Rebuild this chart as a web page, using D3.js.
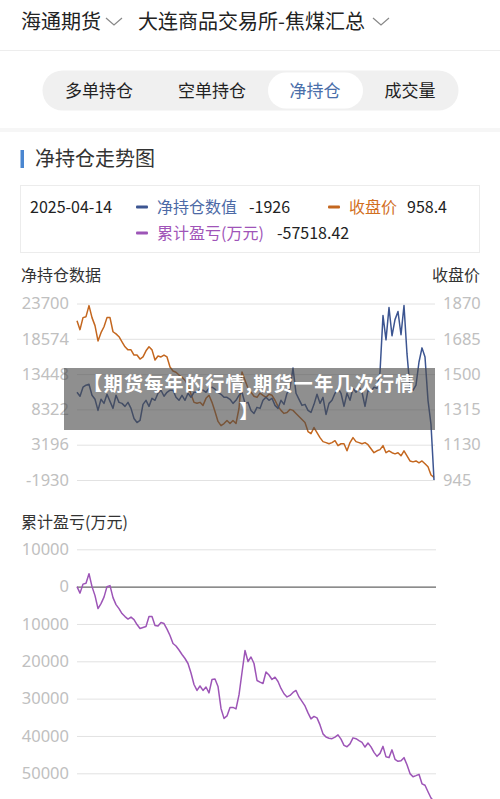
<!DOCTYPE html>
<html>
<head>
<meta charset="utf-8">
<script src="https://cdn.jsdelivr.net/npm/d3@7"></script>
<style>
  html, body { margin: 0; padding: 0; background: #fff; }
  svg { display: block; font-family: "Noto Sans CJK SC", "Noto Sans", sans-serif; }
</style>
</head>
<body>
<div id="chart"></div>
<script>
// header / tabs
const brokers = ['海通期货', '大连商品交易所-焦煤汇总'];
const tabs = ['多单持仓', '空单持仓', '净持仓', '成交量'];
const activeTab = '净持仓';

// legend readout for the last day
const lastDate = '2025-04-14';
const legendItems = [
  { name: '净持仓数值', value: '-1926', key: 'net' },
  { name: '收盘价', value: '958.4', key: 'price' },
  { name: '累计盈亏(万元)', value: '-57518.42', key: 'pnl' }
];

// axis ticks
const netTicks = [-1930, 3196, 8322, 13448, 18574, 23700];
const priceTicks = [945, 1130, 1315, 1500, 1685, 1870];
const pnlTicks = [10000, 0, -10000, -20000, -30000, -40000, -50000];

// series (one value per trading-day sample)
const netPosition = [
  10812, 10226, 11544, 11837, 11983, 10372, 9786, 8175, 9786, 9200,
  10519, 9493, 8468, 10372, 9347, 9200, 8761, 9347, 8468, 7004,
  6418, 6711, 9054, 9640, 8761, 9933, 9640, 10665, 11104, 10226,
  10812, 11104, 11104, 10079, 9640, 10372, 9640, 10665, 10079, 10812,
  10812, 11251, 11104, 10812, 11397, 11544, 11251, 10812, 10519, 10079,
  10079, 9786, 9200, 9640, 10372, 10812, 9200, 9347, 8175, 7736,
  8615, 8468, 9640, 10079, 9640, 9933, 8908, 8468, 9640, 9054,
  10665, 11397, 14327, 10665, 9786, 8908, 9054, 8175, 7882, 9054,
  10519, 9200, 10079, 7589, 9200, 9640, 10665, 11397, 10665, 8761,
  10665, 9640, 11397, 10812, 11544, 10812, 8761, 11104, 10958, 11544,
  11397, 13741, 21943, 18427, 23114, 19013, 21357, 22528, 19160, 23407,
  16377, 11397, 11104, 11837, 15205, 17256, 15938, 9640, 6125, -1926
];

const closePrice = [
  1780, 1733, 1796, 1801, 1859, 1796, 1754, 1674, 1717, 1748,
  1796, 1796, 1722, 1711, 1696, 1669, 1643, 1627, 1627, 1600,
  1600, 1579, 1590, 1622, 1643, 1627, 1574, 1595, 1590, 1600,
  1590, 1537, 1516, 1510, 1495, 1484, 1468, 1437, 1394, 1352,
  1347, 1352, 1336, 1373, 1389, 1352, 1304, 1252, 1230, 1241,
  1257, 1241, 1257, 1241, 1320, 1511, 1468, 1426, 1405, 1384,
  1378, 1400, 1389, 1378, 1394, 1389, 1363, 1331, 1310, 1294,
  1299, 1315, 1310, 1294, 1278, 1262, 1246, 1199, 1188, 1220,
  1193, 1167, 1146, 1141, 1135, 1141, 1151, 1125, 1135, 1135,
  1098, 1141, 1167, 1146, 1141, 1135, 1141, 1130, 1109, 1088,
  1098, 1104, 1125, 1088, 1098, 1088, 1082, 1088, 1072, 1098,
  1072, 1045, 1040, 1045, 1035, 1045, 1030, 1014, 971, 958.4
];

const cumulativePnl = [
  0, -1738, 669, 882, 3476, 0, -2407, -5883, -4546, -2808,
  0, 267, -2941, -4813, -5883, -7220, -8022, -8691, -8156, -8824,
  -10161, -11231, -10963, -10696, -8022, -8022, -10429, -10563, -9626, -9894,
  -11365, -13103, -15242, -15910, -16980, -18183, -19253, -20590, -23130, -26205,
  -27810, -26607, -27810, -26874, -28478, -24868, -24735, -26740, -32623, -35297,
  -34628, -32355, -32355, -32756, -29012, -22996, -17114, -20055, -18852, -20590,
  -25136, -25590, -25938, -22863, -23665, -24868, -24253, -25403, -27275, -28692,
  -29548, -29147, -28344, -27810, -29548, -30751, -31954, -33826, -35431, -34762,
  -35163, -37035, -39442, -40297, -40591, -40725, -40297, -39709, -40859, -42517,
  -42891, -42116, -40511, -40725, -41233, -41714, -42971, -41901, -42918, -44388,
  -45458, -44656, -42784, -45592, -45806, -43720, -46260, -46795, -46661, -45806,
  -47731, -50084, -50940, -50619, -50272, -52812, -53213, -54951, -56609, -57518.42
];

const watermark = ['【期货每年的行情,期货一年几次行情', '】'];

const colors = { net: '#3c5591', price: '#c4671f', pnl: '#9d55b7' };
const legendText = { net: '#4d6aa6', price: '#d2701f', pnl: '#a054b8' };
const tickFont = '"Noto Sans", "Open Sans", sans-serif';

const width = 500;
const height = 799;
const svg = d3.select('#chart').append('svg').attr('width', width).attr('height', height);

// ---- header ----
const header = svg.append('g').attr('class', 'header');
header.append('text').attr('x', 21).attr('y', 29).attr('font-size', 20).attr('fill', '#222').text(brokers[0]);
header.append('text').attr('x', 138).attr('y', 29).attr('font-size', 20).attr('fill', '#222').text(brokers[1]);
[[106, 18], [373, 18]].forEach(([cx, cy]) => {
  header.append('path')
    .attr('d', `M${cx},${cy} L${cx + 8},${cy + 7} L${cx + 16},${cy}`)
    .attr('fill', 'none').attr('stroke', '#888').attr('stroke-width', 1.2);
});
header.append('line').attr('x1', 0).attr('x2', width).attr('y1', 50.5).attr('y2', 50.5)
  .attr('stroke', '#ededed');

// ---- tab switcher ----
const tabCenters = [99, 212, 315, 410];
const tabsG = svg.append('g').attr('class', 'tabs');
tabsG.append('rect').attr('x', 42.5).attr('y', 70.5).attr('width', 416).attr('height', 40)
  .attr('rx', 20).attr('fill', '#f0f0f0');
tabsG.append('rect').attr('x', 268).attr('y', 72.5).attr('width', 95).attr('height', 36)
  .attr('rx', 18).attr('fill', '#fff');
tabsG.selectAll('text').data(tabs).join('text')
  .attr('x', (d, i) => tabCenters[i])
  .attr('y', 96.5)
  .attr('text-anchor', 'middle')
  .attr('font-size', 17)
  .attr('fill', (d) => d === activeTab ? '#4a6ea9' : '#222')
  .text((d) => d);

svg.append('rect').attr('x', 0).attr('y', 128).attr('width', width).attr('height', 4).attr('fill', '#f6f6f6');

// ---- section title ----
svg.append('rect').attr('x', 20.5).attr('y', 150).attr('width', 3.5).attr('height', 18).attr('fill', '#4a86d0');
svg.append('text').attr('x', 35).attr('y', 166).attr('font-size', 20).attr('fill', '#333').text('净持仓走势图');

// ---- legend box ----
const legend = svg.append('g').attr('class', 'legend');
legend.append('rect').attr('x', 20.5).attr('y', 185.5).attr('width', 459).attr('height', 67)
  .attr('fill', '#fff').attr('stroke', '#ececec');
legend.append('text').attr('x', 30).attr('y', 212.5).attr('font-size', 16).attr('fill', '#222').text(lastDate);

const legendPos = [
  { dash: 136, name: 157, value: 249, y: 207 },
  { dash: 328, name: 349, value: 407, y: 207 },
  { dash: 136, name: 157, value: 277, y: 233 }
];
legendItems.forEach((item, i) => {
  const p = legendPos[i];
  legend.append('rect').attr('x', p.dash).attr('y', p.y - 1.5).attr('width', 12).attr('height', 3)
    .attr('rx', 1).attr('fill', colors[item.key]);
  legend.append('text').attr('x', p.name).attr('y', p.y + 5.5).attr('font-size', 16)
    .attr('fill', legendText[item.key]).text(item.name);
  legend.append('text').attr('x', p.value).attr('y', p.y + 5.5).attr('font-size', 16)
    .attr('fill', '#222').text(item.value);
});

// ---- top chart: net position + close price ----
const x = d3.scaleLinear().domain([0, netPosition.length - 1]).range([77, 434]);
const yNet = d3.scaleLinear().domain([-1930, 23700]).range([480, 303.5]);
const yPrice = d3.scaleLinear().domain([945, 1870]).range([480, 303.5]);

const topChart = svg.append('g').attr('class', 'top-chart');
topChart.append('text').attr('x', 21).attr('y', 281).attr('font-size', 16).attr('fill', '#333').text('净持仓数据');
topChart.append('text').attr('x', 480).attr('y', 281).attr('text-anchor', 'end').attr('font-size', 16).attr('fill', '#333').text('收盘价');

const leftAxis = d3.axisLeft(yNet).tickValues(netTicks).tickSize(-358).tickPadding(8).tickFormat((d) => String(d));
const gLeft = topChart.append('g').attr('transform', 'translate(77,0)').call(leftAxis);
gLeft.select('.domain').remove();
gLeft.selectAll('.tick line').attr('stroke', '#e2e2e2');
gLeft.selectAll('.tick text').attr('font-size', 16.5).attr('fill', '#c0c0c0').attr('font-family', tickFont);

const rightAxis = d3.axisRight(yPrice).tickValues(priceTicks).tickSize(0).tickPadding(8).tickFormat((d) => String(d));
const gRight = topChart.append('g').attr('transform', 'translate(435,0)').call(rightAxis);
gRight.select('.domain').remove();
gRight.selectAll('.tick text').attr('font-size', 16.5).attr('fill', '#c0c0c0').attr('font-family', tickFont);

topChart.append('path').datum(closePrice)
  .attr('d', d3.line().x((d, i) => x(i)).y((d) => yPrice(d)))
  .attr('fill', 'none').attr('stroke', colors.price).attr('stroke-width', 1.5).attr('stroke-linejoin', 'round');
topChart.append('path').datum(netPosition)
  .attr('d', d3.line().x((d, i) => x(i)).y((d) => yNet(d)))
  .attr('fill', 'none').attr('stroke', colors.net).attr('stroke-width', 1.5).attr('stroke-linejoin', 'round');

// ---- bottom chart: cumulative P&L ----
const yPnl = d3.scaleLinear().domain([-50000, 10000]).range([773.3, 549.3]);
const bottomChart = svg.append('g').attr('class', 'bottom-chart');
bottomChart.append('text').attr('x', 21).attr('y', 528).attr('font-size', 16).attr('fill', '#333').text('累计盈亏(万元)');

// the app prints the magnitude only, so negative ticks show without a sign
const pnlAxis = d3.axisLeft(yPnl).tickValues(pnlTicks).tickSize(-359).tickPadding(8)
  .tickFormat((d) => String(Math.abs(d)));
const gPnl = bottomChart.append('g').attr('transform', 'translate(77,0)').call(pnlAxis);
gPnl.select('.domain').remove();
gPnl.selectAll('.tick line').attr('stroke', (d) => d === 0 ? '#666' : '#e2e2e2').attr('stroke-width', (d) => d === 0 ? 1.3 : 1);
gPnl.selectAll('.tick text').attr('font-size', 16.5).attr('fill', '#c0c0c0').attr('font-family', tickFont);

bottomChart.append('path').datum(cumulativePnl)
  .attr('d', d3.line().x((d, i) => x(i)).y((d) => yPnl(d)))
  .attr('fill', 'none').attr('stroke', colors.pnl).attr('stroke-width', 1.5).attr('stroke-linejoin', 'round');

// ---- watermark band over the top chart (one wrapped text, two lines) ----
const wm = svg.append('g').attr('class', 'watermark');
wm.append('rect').attr('x', 64).attr('y', 368).attr('width', 371).attr('height', 62)
  .attr('fill', 'rgba(75,75,75,0.62)');
const wmText = wm.append('text')
  .attr('x', 249.5)
  .attr('y', 391)
  .attr('text-anchor', 'middle')
  .attr('font-size', 19)
  .attr('letter-spacing', 1.3)
  .attr('font-weight', 'bold')
  .attr('fill', '#fff');
wmText.selectAll('tspan').data(watermark).join('tspan')
  .attr('x', 249.5)
  .attr('dy', (d, i) => i === 0 ? 0 : 28)
  .text((d) => d);
</script>
</body>
</html>
